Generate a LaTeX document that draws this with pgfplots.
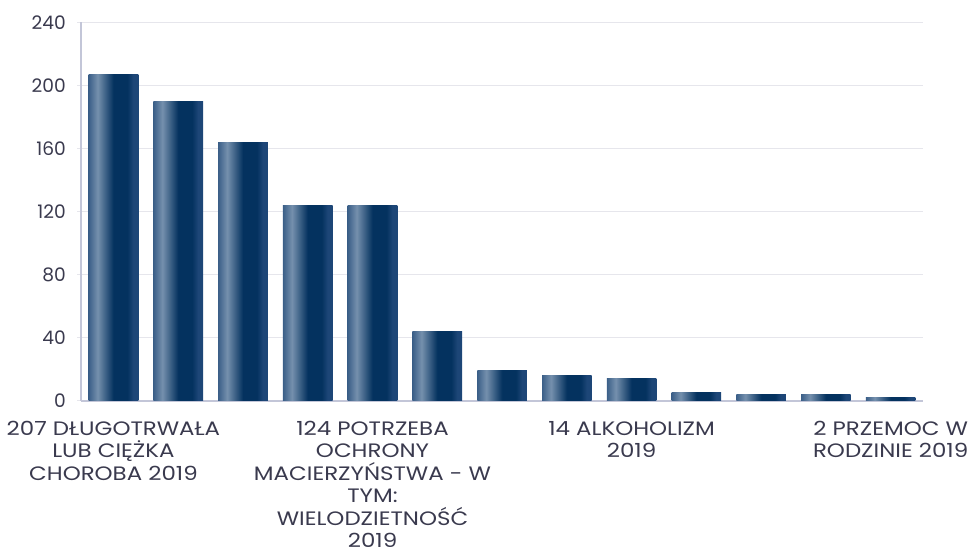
\documentclass[border=0pt]{standalone}
\usepackage{fontspec}
\setmainfont{Poppins}
\newfontfamily\labfont{Poppins}[FakeStretch=1.18]
\usepackage{pgfplots}
\pgfplotsset{compat=1.18}
\definecolor{txt}{HTML}{3A3A4E}
\definecolor{axisc}{HTML}{C3C6D8}
\definecolor{gridc}{HTML}{E6E6EC}
\definecolor{b1}{HTML}{3B5F88}
\definecolor{b2}{HTML}{7590AD}
\definecolor{b3}{HTML}{04325F}
\definecolor{b4}{HTML}{1D4677}
% visible part of a shading is 25bp..75bp
\pgfdeclarehorizontalshading{barshade}{100bp}{color(0bp)=(b1); color(25bp)=(b1); color(34bp)=(b2); color(50bp)=(b3); color(64bp)=(b3); color(70bp)=(b4); color(100bp)=(b4)}

\begin{document}
\begin{tikzpicture}
\begin{axis}[
  scale only axis,
  width=416pt, height=187pt,
  xmin=-0.5, xmax=12.5,
  ymin=0, ymax=240,
  ytick={0,40,...,240},
  xtick={0,4,8,12},
  xticklabels={
    {207 DŁUGOTRWAŁA\\LUB CIĘŻKA\\CHOROBA 2019},
    {124 POTRZEBA\\OCHRONY\\MACIERZYŃSTWA - W\\TYM:\\WIELODZIETNOŚĆ\\2019},
    {14 ALKOHOLIZM\\2019},
    {2 PRZEMOC W\\RODZINIE 2019}},
  axis x line*=bottom, axis y line*=left,
  x axis line style={draw=axisc, line width=1.2pt},
  y axis line style={draw=axisc, line width=0.8pt},
  ymajorgrids, grid style={gridc, line width=0.6pt},
  tick align=outside, major tick length=2pt,
  ytick style={draw=gridc, line width=0.6pt},
  xtick style={draw=none},
  /pgf/number format/assume math mode=true,
  yticklabel style={font=\fontsize{9.2}{11}\selectfont, text=txt, xshift=-2pt},
  xticklabel style={font=\labfont\fontsize{9.6}{11.1}\selectfont, text=txt, align=center, yshift=-4.5pt},
  mybar/.style={ybar, bar width=24.5pt, draw=none, shading=barshade},
]
\addplot[mybar] coordinates {(0,207)};
\addplot[mybar] coordinates {(1,190)};
\addplot[mybar] coordinates {(2,164)};
\addplot[mybar] coordinates {(3,124)};
\addplot[mybar] coordinates {(4,124)};
\addplot[mybar] coordinates {(5,44)};
\addplot[mybar] coordinates {(6,19)};
\addplot[mybar] coordinates {(7,16)};
\addplot[mybar] coordinates {(8,14)};
\addplot[mybar] coordinates {(9,5)};
\addplot[mybar] coordinates {(10,4)};
\addplot[mybar] coordinates {(11,4)};
\addplot[mybar] coordinates {(12,2)};
\end{axis}
\path ([yshift=11pt]current axis.north);
\end{tikzpicture}
\end{document}
